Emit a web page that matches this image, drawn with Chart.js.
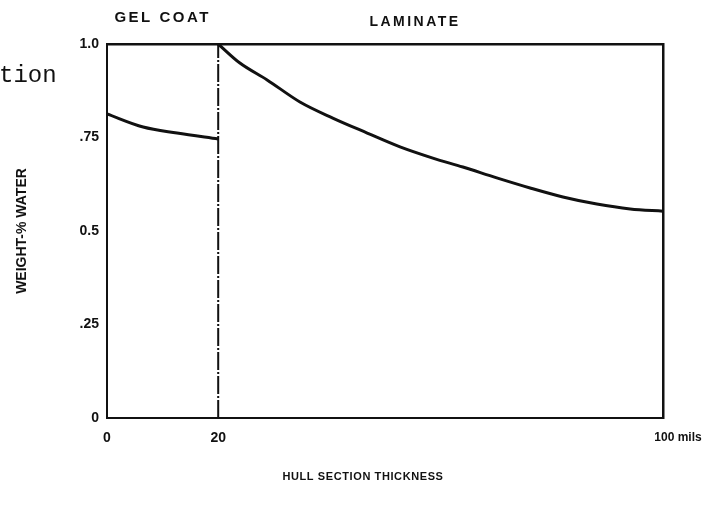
<!DOCTYPE html>
<html>
<head>
<meta charset="utf-8">
<script src="https://cdn.jsdelivr.net/npm/chart.js@4/dist/chart.umd.min.js"></script>
<style>
  html, body { margin: 0; padding: 0; background: #ffffff; }
  #wrap { width: 715px; height: 510px; position: relative; }
</style>
</head>
<body>
<div id="wrap"><canvas id="c" width="715" height="510"></canvas></div>
<script>
// ---- Data ----
const xTicks = [0, 20, 100];
const xTickLabels = ['0', '20', '100 mils'];
const yTicks = [0, 0.25, 0.5, 0.75, 1.0];
const yTickLabels = ['0', '.25', '0.5', '.75', '1.0'];

// Gel coat profile (mils, weight-% water)
const gelX = [0, 6.5, 12.6, 20];
const gelY = [0.813, 0.778, 0.762, 0.746];

// Laminate profile
const lamX = [20, 23.9, 28.8, 34.7, 40.6, 46.8, 52.7, 58.6, 64.0, 70.1, 76.1, 82.0, 88.1, 94.1, 100];
const lamY = [1.0, 0.949, 0.904, 0.845, 0.802, 0.762, 0.725, 0.695, 0.671, 0.642, 0.615, 0.591, 0.572, 0.559, 0.553];

// Gel coat / laminate interface
const interfaceX = [20, 20];
const interfaceY = [0, 1.0];

const regionLabels = ['GEL COAT', 'LAMINATE'];
const regionCenters = [10, 55.4];
const xTitle = 'HULL SECTION THICKNESS';
const yTitle = 'WEIGHT-% WATER';
const fragmentText = 'tion';

const toPts = (xs, ys) => xs.map((x, i) => ({ x: x, y: ys[i] }));
const INK = '#111111';
const SANS = '"Liberation Sans", Arial, sans-serif';

const textPlugin = {
  id: 'annotTexts',
  afterDraw(chart) {
    const ctx = chart.ctx;
    const xs = chart.scales.x;
    ctx.save();
    ctx.fillStyle = INK;
    ctx.textBaseline = 'middle';
    ctx.textAlign = 'center';
    ctx.font = 'bold 15px ' + SANS;
    ctx.letterSpacing = '2.5px';
    ctx.fillText(regionLabels[0], xs.getPixelForValue(regionCenters[0]), 18);
    ctx.font = 'bold 14px ' + SANS;
    ctx.letterSpacing = '2.5px';
    ctx.fillText(regionLabels[1], xs.getPixelForValue(regionCenters[1]), 22);
    ctx.font = 'bold 11px ' + SANS;
    ctx.letterSpacing = '0.6px';
    ctx.fillText(xTitle, 363, 477);
    ctx.letterSpacing = '0px';
    ctx.textAlign = 'left';
    ctx.textBaseline = 'alphabetic';
    ctx.font = '24px "Liberation Mono", "DejaVu Sans Mono", monospace';
    ctx.fillText(fragmentText, -1, 82);
    ctx.restore();
  }
};

new Chart(document.getElementById('c'), {
  type: 'scatter',
  data: {
    datasets: [
      { label: 'Gel coat', data: toPts(gelX, gelY), showLine: true, borderColor: INK, borderWidth: 3, pointRadius: 0, cubicInterpolationMode: 'monotone' },
      { label: 'Laminate', data: toPts(lamX, lamY), showLine: true, borderColor: INK, borderWidth: 3, pointRadius: 0, cubicInterpolationMode: 'monotone' },
      { label: 'Interface', data: toPts(interfaceX, interfaceY), showLine: true, borderColor: INK, borderWidth: 2, borderDash: [18, 2, 2, 2], pointRadius: 0 }
    ]
  },
  options: {
    responsive: false,
    animation: false,
    layout: { padding: { left: 0, top: 44, right: 52, bottom: 0 } },
    plugins: { legend: { display: false }, tooltip: { enabled: false } },
    scales: {
      x: {
        type: 'linear', position: 'bottom', min: 0, max: 100,
        grid: { display: false, drawTicks: false },
        border: { display: true, color: INK, width: 2 },
        afterBuildTicks: s => { s.ticks = xTicks.map(v => ({ value: v })); },
        afterFit: s => { s.height = 92; },
        ticks: {
          autoSkip: false, maxRotation: 0, padding: 12, color: INK,
          font: ctx => ({ family: SANS, weight: 'bold', size: ctx.index === 2 ? 12 : 14 }),
          callback: (v, i) => xTickLabels[i] === '100 mils' ? '\u00a0\u00a0\u00a0\u00a0\u00a0\u00a0\u00a0\u00a0\u00a0100 mils' : xTickLabels[i]
        }
      },
      x2: {
        type: 'linear', axis: 'x', position: 'top', min: 0, max: 100,
        grid: { display: false, drawTicks: false },
        border: { display: true, color: INK, width: 2.5 },
        ticks: { display: false },
        afterFit: s => { s.height = 0; }
      },
      y: {
        type: 'linear', position: 'left', min: 0, max: 1,
        grid: { display: false, drawTicks: false },
        border: { display: true, color: INK, width: 2 },
        afterBuildTicks: s => { s.ticks = yTicks.map(v => ({ value: v })); },
        afterFit: s => { s.width = 107; },
        ticks: {
          autoSkip: false, padding: 8, color: INK,
          font: { family: SANS, weight: 'bold', size: 14 },
          callback: (v, i) => yTickLabels[i]
        },
        title: {
          display: true, text: yTitle, color: INK,
          font: { family: SANS, weight: 'bold', size: 14 },
          padding: { top: 14, bottom: 0 }
        }
      },
      y2: {
        type: 'linear', axis: 'y', position: 'right', min: 0, max: 1,
        grid: { display: false, drawTicks: false },
        border: { display: true, color: INK, width: 2.5 },
        ticks: { display: false },
        afterFit: s => { s.width = 0; }
      }
    }
  },
  plugins: [textPlugin]
});
</script>
</body>
</html>
